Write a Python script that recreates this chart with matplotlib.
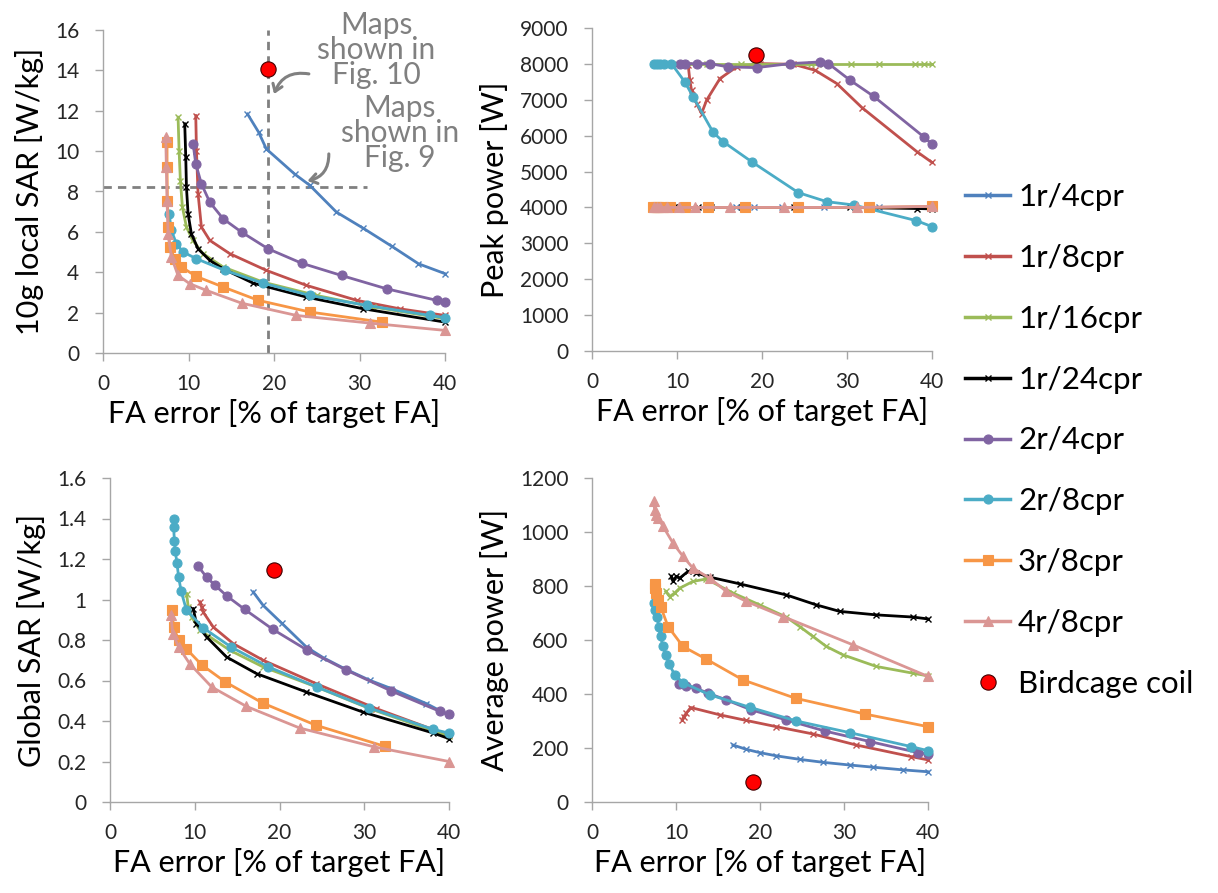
import numpy as np
import matplotlib
matplotlib.use("Agg")
import matplotlib.pyplot as plt
from matplotlib.lines import Line2D
from matplotlib.patches import FancyArrowPatch

plt.rcParams['font.family'] = ['Lato', 'DejaVu Sans']

# ---------------------------------------------------------------- data
labels = ['1r/4cpr', '1r/8cpr', '1r/16cpr', '1r/24cpr',
          '2r/4cpr', '2r/8cpr', '3r/8cpr', '4r/8cpr']
colors = ['#4F81BD', '#C0504D', '#9BBB59', '#000000',
          '#8064A2', '#4BACC6', '#F79646', '#DA9694']
markers = ['x', 'x', 'x', 'x', 'o', 'o', 's', '^']

birdcage_x = 19.3

# 10g local SAR [W/kg]
lsar_1r4 = ([16.9, 18.2, 19.1, 22.4, 24.2, 27.3, 30.4, 33.8, 36.9, 40.0],
            [11.84, 10.94, 10.11, 8.87, 8.3, 6.98, 6.19, 5.28, 4.42, 3.93])
lsar_1r8 = ([10.85, 10.93, 11.12, 11.51, 12.49, 14.83, 19.12, 23.8, 29.66, 34.7, 40.0],
            [11.76, 10.03, 7.88, 6.24, 5.58, 4.92, 4.09, 3.35, 2.61, 2.19, 1.86])
lsar_1r16 = ([8.78, 8.9, 9.05, 9.29, 9.76, 10.5, 11.7, 14.05, 18.73, 24.98, 31.6, 40.0],
             [11.68, 10.03, 8.54, 7.22, 6.24, 5.58, 4.92, 4.26, 3.51, 2.85, 2.28, 1.70])
lsar_1r24 = ([9.56, 9.68, 9.76, 9.95, 10.34, 11.12, 12.49, 14.05, 17.56, 23.8, 30.44, 40.0],
             [11.35, 9.7, 8.21, 6.9, 5.9, 5.16, 4.59, 4.17, 3.46, 2.77, 2.19, 1.53])
lsar_2r4 = ([10.54, 10.85, 11.51, 12.49, 14.05, 16.2, 19.32, 23.22, 27.9, 33.17, 39.02, 40.0],
            [10.36, 9.37, 8.38, 7.47, 6.65, 5.99, 5.16, 4.45, 3.84, 3.18, 2.61, 2.52])
lsar_2r8 = ([7.73, 8.0, 8.59, 9.37, 10.93, 14.24, 18.73, 24.2, 30.83, 38.24, 40.0],
            [6.9, 6.07, 5.41, 5.0, 4.67, 4.09, 3.46, 2.85, 2.36, 1.86, 1.75])
lsar_3r8 = ([7.49, 7.49, 7.53, 7.65, 7.8, 8.39, 9.17, 10.93, 14.05, 18.15, 24.2, 32.6],
            [10.44, 9.2, 7.55, 6.24, 5.25, 4.67, 4.26, 3.79, 3.27, 2.61, 2.03, 1.53])
lsar_4r8 = ([7.34, 7.41, 7.49, 7.61, 8.0, 8.78, 10.15, 12.1, 16.2, 22.63, 31.22, 40.0],
            [10.69, 9.2, 7.55, 5.9, 4.75, 3.84, 3.43, 3.1, 2.47, 1.86, 1.48, 1.12])
lsar_birdcage = 14.08

# Peak power [W]
ppow_1r4 = ([16.9, 19.1, 22.4, 27.3, 33.8, 40.0],
            [4000, 4000, 4000, 4000, 4000, 4000])
ppow_1r8 = ([11.32, 11.51, 11.71, 12.3, 12.89, 13.48, 15.05, 17.01, 19.76, 23.69, 26.25, 28.8, 31.75, 38.23, 40.0],
            [7961, 7544, 7266, 6895, 6617, 6988, 7590, 7915, 8008, 7989, 7822, 7452, 6784, 5552, 5255])
ppow_1r16 = ([8.8, 10.0, 13.5, 17.5, 19.2, 23.3, 25.8, 27.2, 30.5, 33.8, 38.0, 39.0, 40.0],
             [8000, 8000, 8000, 8000, 8000, 8000, 8000, 8000, 8000, 8000, 8000, 8000, 8000])
ppow_1r24 = ([9.6, 10.3, 11.1, 12.5, 14.0, 17.6, 23.8, 30.4, 38.2, 40.0],
             [4000, 4000, 4000, 4000, 4000, 4000, 4000, 4000, 3970, 3960])
ppow_2r4 = ([10.33, 10.92, 12.3, 13.87, 16.03, 19.37, 23.3, 26.84, 27.82, 30.37, 33.12, 39.02, 40.0],
            [8008, 8008, 8008, 8008, 7915, 7896, 8008, 8054, 8008, 7544, 7099, 5969, 5765])
ppow_2r8 = ([7.27, 7.6, 7.98, 8.5, 9.35, 10.92, 11.9, 14.26, 15.44, 18.78, 24.28, 27.62, 30.77, 38.15, 40.0],
            [8008, 8008, 8008, 8008, 8008, 7498, 7081, 6089, 5830, 5274, 4412, 4161, 4069, 3633, 3466])
ppow_3r8 = ([7.2, 7.5, 7.8, 8.3, 9.2, 10.9, 13.6, 18.0, 24.2, 32.6, 40.0],
            [4000, 4000, 4000, 4000, 4000, 4000, 4000, 4000, 4000, 4000, 4030])
ppow_4r8 = ([7.3, 7.6, 8.0, 8.8, 10.2, 12.1, 16.2, 22.6, 31.2, 40.0],
            [4000, 4000, 4000, 4000, 4000, 4000, 4000, 4000, 4000, 4030])
ppow_birdcage = 8260

# Global SAR [W/kg]
gsar_1r4 = ([16.9, 18.07, 20.24, 23.18, 25.15, 27.7, 30.65, 33.2, 37.33, 40.0],
            [1.037, 0.971, 0.884, 0.765, 0.713, 0.658, 0.601, 0.56, 0.486, 0.428])
gsar_1r8 = ([10.61, 10.8, 11.0, 12.18, 14.54, 18.07, 24.36, 31.43, 40.0],
            [0.988, 0.963, 0.938, 0.864, 0.782, 0.70, 0.584, 0.461, 0.329])
gsar_1r16 = ([9.04, 9.23, 9.63, 10.61, 14.15, 18.07, 24.36, 30.65, 40.0],
             [1.029, 0.963, 0.914, 0.848, 0.749, 0.667, 0.568, 0.461, 0.324])
gsar_1r24 = ([9.82, 10.2, 11.4, 13.75, 17.29, 23.18, 29.86, 38.11, 40.0],
             [0.955, 0.881, 0.815, 0.716, 0.634, 0.543, 0.444, 0.341, 0.313])
gsar_2r4 = ([10.4, 11.4, 12.4, 13.8, 15.9, 19.2, 23.3, 27.8, 33.2, 38.9, 40.0],
            [1.164, 1.11, 1.07, 1.017, 0.951, 0.853, 0.749, 0.653, 0.548, 0.448, 0.433])
gsar_2r8 = ([7.5, 7.5, 7.6, 7.7, 7.9, 8.1, 8.4, 9.0, 11.0, 14.3, 18.7, 24.4, 30.6, 38.1, 40.0],
            [1.40, 1.36, 1.29, 1.24, 1.18, 1.11, 1.04, 0.95, 0.86, 0.765, 0.667, 0.568, 0.464, 0.359, 0.34])
gsar_3r8 = ([7.3, 7.5, 8.1, 9.0, 10.8, 13.6, 18.0, 24.3, 32.4],
            [0.946, 0.864, 0.798, 0.757, 0.678, 0.593, 0.489, 0.379, 0.275])
gsar_4r8 = ([7.2, 7.4, 8.1, 9.4, 12.0, 16.1, 22.4, 31.2, 40.0],
            [0.922, 0.831, 0.765, 0.683, 0.568, 0.472, 0.365, 0.272, 0.20])
gsar_birdcage = 1.147

# Average power [W]
apow_1r4 = ([16.79, 18.37, 19.96, 21.94, 24.72, 27.5, 30.67, 33.45, 37.02, 40.0],
            [211, 195, 183, 171, 158, 147, 137, 129, 119, 112])
apow_1r8 = ([10.75, 10.91, 11.23, 11.75, 15.2, 18.37, 21.94, 26.31, 31.47, 38.02, 40.0],
            [304, 316, 329, 350, 323, 302, 279, 252, 211, 168, 156])
apow_1r16 = ([8.77, 9.25, 9.84, 10.44, 12.02, 13.61, 16.79, 19.96, 23.13, 24.72, 26.31, 27.9, 29.88, 33.85, 38.21, 40.0],
             [780, 761, 774, 792, 817, 826, 774, 730, 685, 650, 613, 576, 545, 502, 477, 467])
apow_1r24 = ([9.44, 9.64, 10.04, 10.44, 11.43, 12.42, 14.01, 17.58, 23.13, 26.71, 29.48, 33.85, 38.21, 40.0],
             [836, 817, 836, 829, 854, 848, 833, 808, 767, 730, 706, 693, 685, 678])
apow_2r4 = ([10.32, 11.23, 12.42, 13.81, 15.99, 18.97, 23.13, 27.7, 33.06, 38.81, 40.0],
            [437, 428, 421, 403, 378, 341, 304, 263, 224, 183, 178])
apow_2r8 = ([7.34, 7.54, 7.74, 7.94, 8.17, 8.45, 8.77, 9.17, 9.84, 10.83, 14.01, 18.77, 24.33, 30.67, 38.02, 40.0],
            [737, 712, 687, 650, 613, 576, 545, 512, 471, 442, 397, 351, 300, 257, 205, 190])
apow_3r8 = ([7.46, 7.54, 7.66, 7.86, 8.17, 9.05, 10.83, 13.61, 17.98, 24.25, 32.46, 40.0],
            [808, 792, 774, 749, 724, 650, 576, 529, 452, 384, 326, 279])
apow_4r8 = ([7.34, 7.46, 7.66, 7.86, 8.45, 9.64, 10.83, 12.02, 14.01, 15.99, 18.37, 22.74, 31.07, 40.0],
            [1113, 1083, 1064, 1052, 1021, 959, 910, 866, 829, 780, 743, 687, 582, 465])
apow_birdcage_x = 19.2
apow_birdcage = 75


#################################################################################
def style_axes(ax, ymax, ystep, ylabel, yfmt=None):
    ax.set_xlim(0, 40)
    ax.set_ylim(0, ymax)
    ax.set_xticks(np.arange(0, 41, 10))
    ticks = np.arange(0, ymax + ystep / 2, ystep)
    ax.set_yticks(ticks)
    if yfmt is not None:
        ax.set_yticklabels([yfmt(t) for t in ticks])
    for s in ['top', 'right']:
        ax.spines[s].set_visible(False)
    for s in ['left', 'bottom']:
        ax.spines[s].set_color('#a6a6a6')
        ax.spines[s].set_linewidth(1.0)
    ax.tick_params(direction='out', length=6, width=1, color='#a6a6a6',
                   labelsize=15, labelcolor='#262626')
    ax.tick_params(axis='x', pad=9)
    ax.tick_params(axis='y', pad=11)
    ax.set_xlabel('FA error [% of target FA]', fontsize=22, labelpad=4)
    ax.set_ylabel(ylabel, fontsize=22, labelpad=8)


def draw_series(ax, series, bird_x, bird_y):
    for i, (xs, ys) in enumerate(series):
        m = markers[i]
        ms = 5 if m == 'x' else 6.5
        ax.plot(xs, ys, color=colors[i], lw=2.0, marker=m, ms=ms,
                mew=1.0 if m == 'x' else 0.8, clip_on=False, zorder=3 + i)
    ax.plot([bird_x], [bird_y], 'o', color='#FF0000', mec='#400000', mew=0.8,
            ms=11, zorder=20, clip_on=False)


fig = plt.figure(figsize=(12.18, 8.93), dpi=100)
W, H = 1218.0, 893.0

ax1 = fig.add_axes([103 / W, 1 - 353 / H, 342 / W, 323 / H])
ax2 = fig.add_axes([592 / W, 1 - 351 / H, 340 / W, 323 / H])
ax3 = fig.add_axes([110 / W, 1 - 802 / H, 339 / W, 324 / H])
ax4 = fig.add_axes([592 / W, 1 - 802 / H, 336 / W, 324 / H])

style_axes(ax1, 16, 2, '10g local SAR [W/kg]')
style_axes(ax2, 9000, 1000, 'Peak power [W]')
style_axes(ax3, 1.6, 0.2, 'Global SAR [W/kg]',
           yfmt=lambda t: '0' if abs(t) < 1e-9 else ('1' if abs(t - 1) < 1e-9 else '%.1f' % t))
style_axes(ax4, 1200, 200, 'Average power [W]')

draw_series(ax1, [lsar_1r4, lsar_1r8, lsar_1r16, lsar_1r24, lsar_2r4, lsar_2r8, lsar_3r8, lsar_4r8],
            birdcage_x, lsar_birdcage)
draw_series(ax2, [ppow_1r4, ppow_1r8, ppow_1r16, ppow_1r24, ppow_2r4, ppow_2r8, ppow_3r8, ppow_4r8],
            birdcage_x, ppow_birdcage)
draw_series(ax3, [gsar_1r4, gsar_1r8, gsar_1r16, gsar_1r24, gsar_2r4, gsar_2r8, gsar_3r8, gsar_4r8],
            birdcage_x, gsar_birdcage)
draw_series(ax4, [apow_1r4, apow_1r8, apow_1r16, apow_1r24, apow_2r4, apow_2r8, apow_3r8, apow_4r8],
            apow_birdcage_x, apow_birdcage)

# dashed guide lines + notes on the local SAR panel
gray = '#808080'
ax1.plot([birdcage_x, birdcage_x], [0, 16], color=gray, lw=2, ls=(0, (3, 2.2)), zorder=2, clip_on=False)
ax1.plot([0, 30.9], [8.2, 8.2], color=gray, lw=2, ls=(0, (3, 2.2)), zorder=2, clip_on=False)
ax1.text(32.0, 15.0, 'Maps\nshown in\nFig. 10', ha='center', va='center', fontsize=21.5,
         color=gray, linespacing=0.87, zorder=25)
ax1.text(34.7, 10.9, 'Maps\nshown in\nFig. 9', ha='center', va='center', fontsize=21.5,
         color=gray, linespacing=0.87, zorder=25)
ax1.add_patch(FancyArrowPatch((24.4, 13.8), (19.9, 12.7), connectionstyle='arc3,rad=0.45',
                              arrowstyle='->,head_length=5,head_width=3.5', color=gray, lw=2.2,
                              zorder=25, clip_on=False))
ax1.add_patch(FancyArrowPatch((26.4, 10.0), (23.6, 8.5), connectionstyle='arc3,rad=-0.45',
                              arrowstyle='->,head_length=5,head_width=3.5', color=gray, lw=2.2,
                              zorder=25, clip_on=False))

# legend
handles = []
for i in range(len(labels)):
    m = markers[i]
    handles.append(Line2D([], [], color=colors[i], lw=2.5, marker=m,
                          ms=5 if m == 'x' else 6.5, mew=1.0 if m == 'x' else 0.8))
handles.append(Line2D([], [], ls='none', marker='o', color='#FF0000', mec='#400000', mew=0.8, ms=11))
fig.legend(handles, labels + ['Birdcage coil'], loc='center left',
           bbox_to_anchor=(965 / W, 1 - 440.5 / H), frameon=False, fontsize=22.5,
           numpoints=1, handlelength=1.45, handletextpad=0.25, labelspacing=1.05,
           borderpad=0, borderaxespad=0)

fig.savefig('out.png', dpi=100)
